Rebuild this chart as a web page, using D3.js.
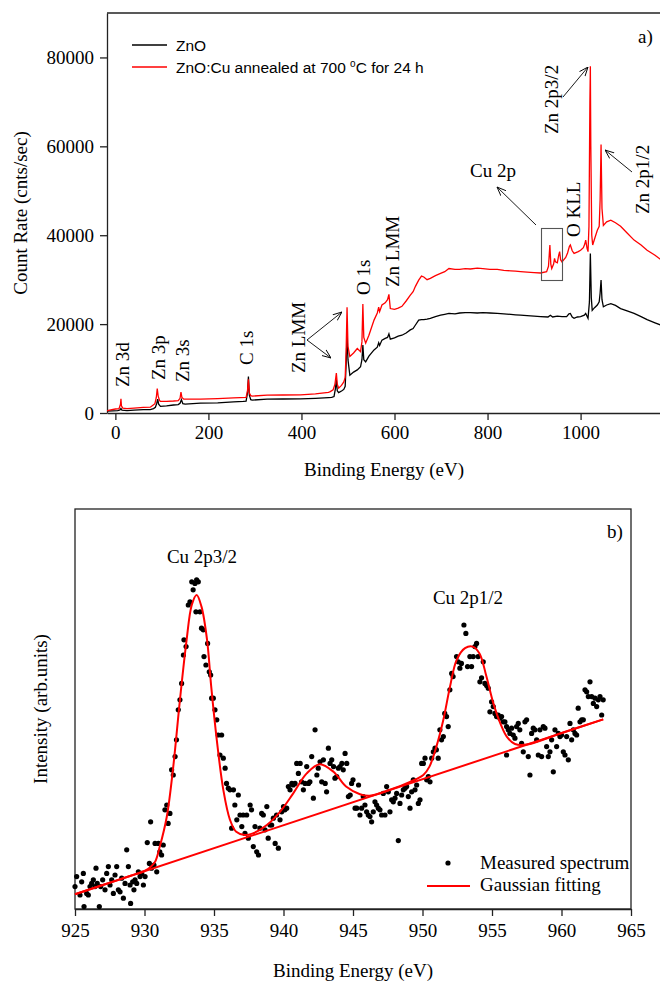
<!DOCTYPE html>
<html>
<head>
<meta charset="utf-8">
<script src="https://cdn.jsdelivr.net/npm/d3@7"></script>
<style>
body { margin: 0; background: #fff; }
svg text { font-family: "Liberation Serif", "Times New Roman", serif; fill: #000; }
</style>
</head>
<body>
<script>
// ---- panel a) survey spectra : [binding energy (eV), count rate]
var znoSurvey = [
  [-18,450],[-5,500],[5,550],[10,700],[12,1000],[14,650],[25,550],[40,650],[60,750],[75,750],
  [82,1000],[86,1300],[89,2200],[91,3100],[93,2000],[97,1500],[110,1600],[125,1800],[135,1900],
  [139,2200],[142,3000],[145,2100],[150,2000],[183,2200],[220,2300],[254,2500],[275,2600],
  [281,2650],[284,4500],[286,8200],[288,4000],[291,3000],[294,2900],[326,3100],[360,3150],
  [398,3200],[430,3300],[458,3450],[465,3500],[470,3700],[473,5500],[475,7500],[477,5000],
  [480,4600],[487,5000],[491,5300],[494,6000],[496,11000],[498,17900],[500,12000],[504,8500],
  [512,9200],[520,9700],[527,10400],[530,12000],[532,15300],[534,12000],[538,11500],[545,12800],
  [556,14200],[563,14800],[566,15800],[568,15200],[573,16400],[580,16800],[585,17000],[588,17800],
  [591,16600],[600,16900],[608,17300],[616,17500],[625,18000],[634,18700],[640,19000],[645,19800],
  [652,20900],[658,21000],[663,21000],[670,21100],[677,21300],[688,21700],[699,22000],[708,22200],
  [717,22400],[730,22300],[740,22500],[752,22600],[763,22600],[778,22500],[790,22600],[805,22500],
  [821,22400],[835,22300],[850,22200],[860,22100],[871,22000],[885,21900],[900,21800],[914,21700],
  [930,21600],[935,22000],[940,21600],[950,21800],[960,21700],[970,21700],[975,22300],[978,22400],
  [982,21600],[986,21300],[993,21600],[1000,21700],[1008,22000],[1011,22400],[1016,21300],
  [1019,25000],[1021,35900],[1023,26000],[1025,23100],[1030,23700],[1036,24300],[1040,25000],
  [1042,27000],[1044,29900],[1046,25500],[1049,23900],[1056,24300],[1065,24600],[1075,24200],
  [1086,23500],[1100,23000],[1115,22400],[1130,21700],[1143,21000],[1160,20300],[1175,19700]
];

var cuSurvey = [
  [-18,500],[-10,700],[0,900],[8,1000],[11,2000],[12,3200],[13,1600],[16,1100],[25,1000],[40,1100],
  [60,1250],[75,1300],[80,1700],[85,2100],[88,3500],[90,5500],[92,3800],[95,2800],[97,2600],
  [110,2600],[125,2700],[135,2800],[139,3300],[141,4700],[143,3500],[147,3100],[183,3100],
  [220,3250],[254,3400],[281,3500],[284,5000],[286,7600],[288,4500],[291,3900],[294,3800],
  [326,4000],[360,4050],[398,4100],[430,4300],[458,4650],[462,4800],[468,5200],[472,6500],
  [475,9000],[477,6500],[480,5600],[486,6200],[491,7000],[494,8000],[496,14000],[498,23800],
  [500,15000],[504,12700],[512,13500],[520,14500],[527,13800],[530,16000],[532,24500],[534,17000],
  [538,15700],[545,17500],[556,20900],[563,22500],[566,23800],[568,22800],[573,24300],[580,24800],
  [585,25500],[588,26700],[591,23500],[600,23300],[608,23600],[616,24000],[625,25200],[634,26500],
  [640,27300],[645,28500],[652,29900],[658,30800],[663,30600],[670,30000],[677,30300],[688,30900],
  [699,31400],[708,31800],[717,32500],[730,32300],[740,32300],[752,32500],[763,32400],[778,32600],
  [790,32500],[805,32300],[821,32300],[835,32100],[850,32000],[860,31900],[871,31800],[885,31700],
  [900,31600],[914,31500],[927,31800],[931,33000],[934,37800],[936,33500],[938,32500],[942,33500],
  [944,34800],[946,34000],[950,33800],[953,35500],[955,36300],[957,34500],[960,34000],[968,35000],
  [972,36000],[976,37500],[978,37800],[982,36500],[986,35900],[995,36300],[1000,36600],[1006,37200],
  [1009,38000],[1011,38900],[1014,37000],[1016,36300],[1018,42000],[1020,70000],[1021,78000],
  [1022,60000],[1024,40000],[1026,37800],[1031,39500],[1036,41100],[1040,42000],[1042,48000],
  [1044,60400],[1046,46000],[1049,42200],[1056,43000],[1065,43400],[1075,42800],[1086,42000],
  [1100,40500],[1115,38900],[1130,37800],[1143,36600],[1160,35500],[1175,34300]
];

var surveyTicksX = [0, 200, 400, 600, 800, 1000];
var surveyTicksY = [0, 20000, 40000, 60000, 80000];
var surveyNames = ["ZnO", "ZnO:Cu annealed at 700 "];

// ---- panel b) Cu 2p high resolution : [binding energy (eV), intensity (arb.)]
var measured = [
  [925.0,5.6],[925.12,8.1],[925.36,3.5],[925.48,6.8],[925.6,8.9],[925.65,0.6],[925.84,3.9],[925.96,3.5],
  [926.08,5.6],[926.2,6.4],[926.32,7.3],[926.44,5.6],[926.51,10.2],[926.6,6.4],[926.75,0.6],[926.85,5.6],
  [926.99,7.3],[927.16,4.8],[927.28,8.9],[927.4,10.6],[927.52,6.0],[927.64,7.3],[927.76,3.9],[927.88,8.5],
  [928.0,10.6],[928.12,4.8],[928.24,4.3],[928.36,7.7],[928.48,2.7],[928.6,6.4],[928.72,14.8],[928.84,10.6],
  [928.96,6.0],[929.0,1.4],[929.15,6.8],[929.24,4.8],[929.32,7.3],[929.44,6.4],[929.56,9.3],[929.68,8.1],
  [929.8,8.9],[929.92,6.0],[930.04,8.1],[930.2,16.6],[930.35,11.4],[930.44,21.8],[930.5,10.2],[930.68,11.0],
  [930.76,16.4],[930.88,9.3],[931.0,16.4],[931.1,14.3],[931.23,13.5],[931.35,16.0],[931.47,24.8],[931.6,26.0],
  [931.7,21.4],[931.83,23.9],[931.95,34.8],[932.07,33.5],[932.2,38.1],[932.3,42.3],[932.43,49.8],[932.55,52.3],
  [932.67,56.4],[932.8,63.5],[932.84,67.3],[932.99,65.6],[933.15,76.0],[933.27,76.8],[933.4,81.8],[933.5,79.8],
  [933.63,81.4],[933.75,82.3],[933.87,81.8],[933.7,74.3],[933.99,74.3],[934.1,70.2],[934.23,69.8],[934.28,63.1],
  [934.42,61.0],[934.54,66.4],[934.66,59.3],[934.76,58.5],[934.83,52.7],[934.95,52.7],[935.07,49.8],[935.2,47.3],
  [935.3,43.5],[935.43,38.5],[935.55,43.5],[935.67,37.7],[935.8,35.2],[935.9,31.4],[936.03,30.2],[936.15,29.8],
  [936.27,20.2],[936.4,29.8],[936.5,26.0],[936.64,22.3],[936.75,28.5],[936.87,23.5],[937.0,20.6],[937.1,23.5],
  [937.23,18.9],[937.35,23.5],[937.47,17.7],[937.6,26.0],[937.7,24.8],[937.83,15.6],[937.95,20.6],[938.07,14.3],
  [938.2,13.5],[938.3,20.2],[938.43,23.9],[938.55,23.5],[938.67,19.8],[938.8,25.6],[938.9,17.7],[939.03,21.0],
  [939.15,21.0],[939.27,22.7],[939.4,16.4],[939.5,23.5],[939.63,15.2],[939.75,22.3],[939.87,24.3],[940.0,25.6],
  [940.1,24.8],[940.23,25.2],[940.35,30.6],[940.47,29.8],[940.6,31.4],[940.7,31.0],[940.83,31.4],[940.95,36.4],
  [941.07,33.9],[941.2,36.4],[941.3,31.8],[941.43,29.8],[941.55,31.4],[941.67,35.6],[941.8,31.4],[941.9,31.8],
  [942.03,38.1],[942.15,27.7],[942.27,44.8],[942.4,33.5],[942.5,35.2],[942.63,36.8],[942.75,31.8],[942.87,37.3],
  [943.0,31.4],[943.1,29.3],[943.23,40.2],[943.35,36.4],[943.47,37.3],[943.6,35.6],[943.7,32.7],[943.83,33.1],
  [943.95,35.2],[944.07,35.6],[944.2,36.4],[944.3,34.8],[944.43,38.9],[944.55,36.4],[944.67,28.1],[944.8,28.5],
  [944.9,31.4],[945.0,32.3],[945.15,25.2],[945.27,25.2],[945.4,31.0],[945.5,23.5],[945.62,25.2],[945.74,28.1],
  [945.86,26.0],[945.98,24.3],[946.1,23.5],[946.22,23.1],[946.34,21.8],[946.46,24.3],[946.58,26.8],[946.7,26.0],
  [946.82,25.2],[946.94,24.8],[947.06,23.5],[947.18,28.9],[947.3,23.5],[947.42,30.6],[947.54,29.3],[947.66,24.3],
  [947.78,27.3],[947.9,26.8],[948.02,27.7],[948.14,28.9],[948.26,17.1],[948.38,26.4],[948.5,28.5],[948.62,29.8],
  [948.74,30.2],[948.86,30.6],[948.98,28.1],[949.1,25.2],[949.22,29.3],[949.34,32.3],[949.46,29.8],[949.58,31.0],
  [949.7,26.4],[949.82,27.3],[949.94,36.4],[950.06,36.4],[950.18,37.7],[950.3,32.3],[950.42,33.1],[950.54,31.8],
  [950.66,37.7],[950.78,39.3],[950.9,40.2],[951.0,39.8],[951.13,37.7],[951.25,44.8],[951.37,42.3],[951.5,43.1],
  [951.6,48.9],[951.73,48.1],[951.85,45.6],[951.97,54.8],[952.1,58.9],[952.2,58.1],[952.45,63.1],[952.57,61.8],
  [952.69,60.2],[952.8,61.4],[952.98,71.0],[953.12,68.9],[953.24,60.6],[953.41,63.1],[953.53,60.6],[953.65,63.1],
  [953.77,65.6],[953.89,66.4],[954.0,63.1],[954.13,56.8],[954.25,57.8],[954.37,61.8],[954.49,56.4],[954.61,55.9],
  [954.73,55.2],[954.85,49.3],[954.97,51.8],[955.09,50.6],[955.21,48.9],[955.33,48.1],[955.45,48.5],[955.57,47.7],
  [955.69,48.1],[955.81,46.8],[955.93,46.8],[956.05,45.6],[956.17,44.8],[956.29,43.9],[956.41,45.2],[956.53,43.5],
  [956.65,42.7],[956.05,38.5],[956.77,45.6],[956.89,46.4],[957.0,44.8],[957.13,41.4],[957.25,39.3],[957.37,46.8],
  [957.49,47.3],[957.61,38.1],[957.73,33.5],[957.85,43.9],[957.97,45.2],[958.09,44.8],[958.21,42.3],[958.33,38.5],
  [958.45,44.8],[958.57,38.1],[958.69,45.6],[958.81,45.2],[958.93,40.6],[959.05,38.1],[959.17,39.3],[959.29,42.3],
  [959.41,34.3],[959.53,44.8],[959.65,40.6],[959.77,43.9],[959.89,43.1],[960.0,43.5],[960.13,39.3],[960.25,38.5],
  [960.37,43.1],[960.49,37.3],[960.61,46.4],[960.73,42.3],[960.85,44.8],[960.97,43.9],[961.09,43.5],[961.2,50.2],
  [961.33,46.8],[961.45,47.3],[961.57,47.3],[961.69,54.8],[961.81,54.3],[961.93,53.1],[962.05,56.8],[962.17,53.1],
  [962.29,51.4],[962.41,52.7],[962.53,50.6],[962.65,52.3],[962.77,53.1],[962.89,48.5],[963.0,52.3]
];

var gaussFit = [
  [925,3.7],[927,6.0],[929,8.3],[930,9.5],[930.4,10.4],[930.76,11.8],[931.1,15.6],[931.6,23],
  [932.07,35.6],[932.55,52.3],[933.03,67.3],[933.4,76],[933.75,78.5],[934.1,75.6],[934.5,67.3],
  [934.8,55.6],[935.2,42.3],[935.67,29.8],[936.15,22.3],[936.6,19.3],[937.2,18.5],[937.8,18.9],
  [938.8,21],[939.75,24.3],[940.7,28.9],[941.67,33.9],[942.6,36.2],[943.6,34.3],[944.5,30.6],
  [945.5,28.7],[946.2,28.3],[947.66,29.8],[949.1,31.8],[950.06,33.5],[950.5,35.6],[951.0,40.6],
  [951.5,47.3],[951.98,55.6],[952.46,62.3],[953.06,65.2],[953.6,65.6],[954.1,63.9],[954.6,58.1],
  [955.1,51.4],[955.6,46.4],[956.06,43.1],[956.65,41.25],[957.5,41.1],[960,44],[963,47.4]
];

var fitBaseline = [[925,3.7],[963,47.4]];
var hiresTicksX = [925, 930, 935, 940, 945, 950, 955, 960, 965];

// ------------------------------------------------------------
var svg = d3.select("body").append("svg")
    .attr("width", 660)
    .attr("height", 982);

var defs = svg.append("defs");
defs.append("marker")
    .attr("id", "arr")
    .attr("viewBox", "0 0 10 10")
    .attr("refX", 10).attr("refY", 5)
    .attr("markerWidth", 9).attr("markerHeight", 9)
    .attr("markerUnits", "userSpaceOnUse")
    .attr("orient", "auto")
  .append("path")
    .attr("d", "M0,1 L10,5 L0,9")
    .attr("fill", "none")
    .attr("stroke", "#000")
    .attr("stroke-width", 1);

defs.append("clipPath").attr("id", "clipA")
  .append("rect").attr("x", 107).attr("y", 13).attr("width", 560).attr("height", 400);

// ======================= panel a) ===========================
var x = d3.scaleLinear().domain([-18, 1175]).range([107, 662]);
var y = d3.scaleLinear().domain([0, 90000]).range([413, 13]);

var gA = svg.append("g");

gA.append("g")
    .attr("transform", "translate(0,413)")
    .call(d3.axisBottom(x).tickValues(surveyTicksX).tickSize(7).tickSizeOuter(0).tickPadding(6).tickFormat(d3.format("d")))
    .call(g => g.selectAll("text").style("font-size", "19px").style("font-family", "Liberation Serif"));

gA.append("g")
    .attr("transform", "translate(107,0)")
    .call(d3.axisLeft(y).tickValues(surveyTicksY).tickSize(7).tickSizeOuter(0).tickPadding(6).tickFormat(d3.format("d")))
    .call(g => g.selectAll("text").style("font-size", "19px").style("font-family", "Liberation Serif"));

gA.selectAll(".domain, .tick line").attr("stroke", "#222").attr("stroke-width", 1.3);

gA.append("line").attr("x1", 107).attr("x2", 662).attr("y1", 13).attr("y2", 13)
    .attr("stroke", "#222").attr("stroke-width", 1.3);

var line = d3.line().x(d => x(d[0])).y(d => y(d[1]));

gA.append("path").datum(znoSurvey)
    .attr("clip-path", "url(#clipA)")
    .attr("d", line).attr("fill", "none").attr("stroke", "#000").attr("stroke-width", 1.3);

gA.append("path").datum(cuSurvey)
    .attr("clip-path", "url(#clipA)")
    .attr("d", line).attr("fill", "none").attr("stroke", "#ff0000").attr("stroke-width", 1.3);

// legend
var legA = gA.append("g");
legA.append("line").attr("x1", 132).attr("x2", 167).attr("y1", 45).attr("y2", 45)
    .attr("stroke", "#000").attr("stroke-width", 1.3);
legA.append("line").attr("x1", 132).attr("x2", 167).attr("y1", 67).attr("y2", 67)
    .attr("stroke", "#ff0000").attr("stroke-width", 1.3);
legA.append("text").attr("x", 176).attr("y", 51)
    .style("font-family", "Liberation Sans").style("font-size", "15.5px")
    .text(surveyNames[0]);
var t2 = legA.append("text").attr("x", 176).attr("y", 73)
    .style("font-family", "Liberation Sans").style("font-size", "15.5px");
t2.append("tspan").text(surveyNames[1]);
t2.append("tspan").attr("dy", -6).style("font-size", "10px").text("o");
t2.append("tspan").attr("dy", 6).text("C for 24 h");

gA.append("text").attr("x", 638).attr("y", 43).style("font-size", "19px").text("a)");

// rotated peak labels
function vlabel(txt, cx, bottom) {
  gA.append("text")
    .attr("transform", "translate(" + cx + "," + bottom + ") rotate(-90)")
    .attr("dy", "0.35em")
    .style("font-size", "19px")
    .text(txt);
}
vlabel("Zn 3d", 122, 387);
vlabel("Zn 3p", 158, 380);
vlabel("Zn 3s", 182, 382);
vlabel("C 1s", 246, 365);
vlabel("Zn LMM", 298, 373);
vlabel("O 1s", 363, 295);
vlabel("Zn LMM", 392, 287);
vlabel("O KLL", 573, 237);
vlabel("Zn 2p3/2", 551, 134);
vlabel("Zn 2p1/2", 642, 214);

gA.append("text").attr("x", 493).attr("y", 177).attr("text-anchor", "middle")
    .style("font-size", "19px").text("Cu 2p");

function arrow(x1, y1, x2, y2) {
  gA.append("line").attr("x1", x1).attr("y1", y1).attr("x2", x2).attr("y2", y2)
    .attr("stroke", "#000").attr("stroke-width", 0.9).attr("marker-end", "url(#arr)");
}
arrow(307, 340, 342, 312);
arrow(307, 340, 331, 358);
arrow(536, 225, 497, 187);
arrow(563, 97, 588, 67);
arrow(632, 172, 605, 150);

gA.append("rect").attr("x", 541.5).attr("y", 228.5).attr("width", 21).attr("height", 52)
    .attr("fill", "none").attr("stroke", "#555").attr("stroke-width", 1.1);

gA.append("text")
    .attr("x", 384).attr("y", 476).attr("text-anchor", "middle")
    .style("font-size", "19px").text("Binding Energy (eV)");
gA.append("text")
    .attr("transform", "translate(20,213) rotate(-90)")
    .attr("text-anchor", "middle").attr("dy", "0.35em")
    .style("font-size", "19px").text("Count Rate (cnts/sec)");

// ======================= panel b) ===========================
var x2 = d3.scaleLinear().domain([925, 965]).range([75, 631]);
var y2 = d3.scaleLinear().domain([0, 100]).range([909, 509]);

var gB = svg.append("g");

gB.append("g")
    .attr("transform", "translate(0,909)")
    .call(d3.axisBottom(x2).tickValues(hiresTicksX).tickSize(7).tickSizeOuter(0).tickPadding(8))
    .call(g => g.selectAll("text").style("font-size", "19px").style("font-family", "Liberation Serif"));
gB.selectAll(".domain, .tick line").attr("stroke", "#222").attr("stroke-width", 1.3);

gB.append("rect").attr("x", 75).attr("y", 509).attr("width", 556).attr("height", 400)
    .attr("fill", "none").attr("stroke", "#222").attr("stroke-width", 1.3);

gB.selectAll("circle.pt").data(measured).enter().append("circle")
    .attr("class", "pt")
    .attr("cx", d => x2(d[0])).attr("cy", d => y2(d[1]))
    .attr("r", 2.6).attr("fill", "#000");

var line2 = d3.line().x(d => x2(d[0])).y(d => y2(d[1]));
gB.append("path").datum(fitBaseline)
    .attr("d", line2).attr("fill", "none").attr("stroke", "#ff0000").attr("stroke-width", 2);
gB.append("path").datum(gaussFit)
    .attr("d", line2.curve(d3.curveCatmullRom.alpha(0.5)))
    .attr("fill", "none").attr("stroke", "#ff0000").attr("stroke-width", 2);

gB.append("text").attr("x", 202).attr("y", 563).attr("text-anchor", "middle")
    .style("font-size", "19px").text("Cu 2p3/2");
gB.append("text").attr("x", 468).attr("y", 604).attr("text-anchor", "middle")
    .style("font-size", "19px").text("Cu 2p1/2");
gB.append("text").attr("x", 607).attr("y", 538).style("font-size", "19px").text("b)");

// legend
gB.append("circle").attr("cx", 448).attr("cy", 863).attr("r", 2.6).attr("fill", "#000");
gB.append("text").attr("x", 480).attr("y", 869).style("font-size", "19px").text("Measured spectrum");
gB.append("line").attr("x1", 427).attr("x2", 470).attr("y1", 886).attr("y2", 886)
    .attr("stroke", "#ff0000").attr("stroke-width", 2);
gB.append("text").attr("x", 480).attr("y", 891).style("font-size", "19px").text("Gaussian fitting");

gB.append("text")
    .attr("x", 353).attr("y", 977).attr("text-anchor", "middle")
    .style("font-size", "19px").text("Binding Energy (eV)");
gB.append("text")
    .attr("transform", "translate(40,709) rotate(-90)")
    .attr("text-anchor", "middle").attr("dy", "0.35em")
    .style("font-size", "19px").text("Intensity (arb.units)");
</script>
</body>
</html>
